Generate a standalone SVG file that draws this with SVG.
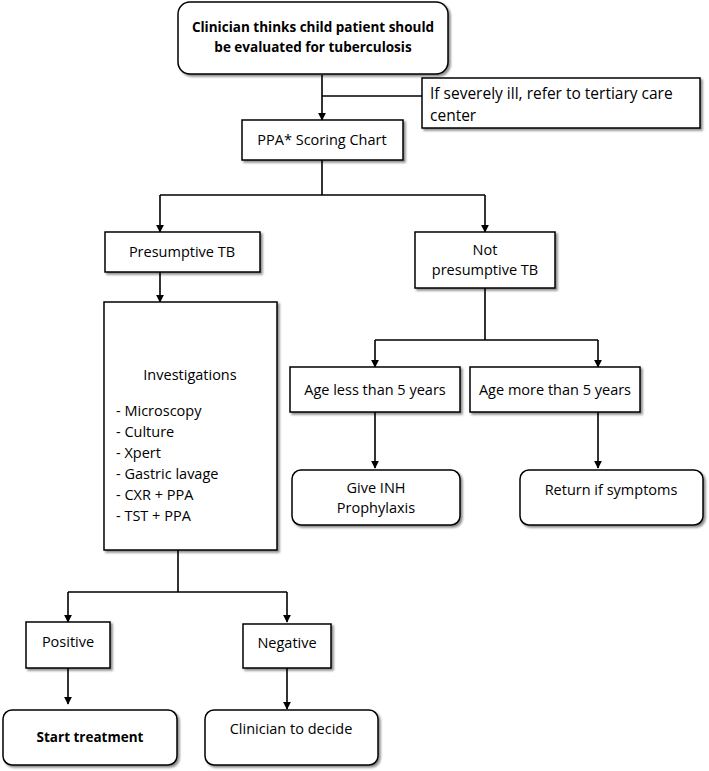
<svg xmlns="http://www.w3.org/2000/svg" width="709" height="771" viewBox="0 0 709 771">
<defs>
<filter id="sh" x="-10%" y="-10%" width="130%" height="130%"><feDropShadow dx="2" dy="2" stdDeviation="1.2" flood-color="#000" flood-opacity="0.45"/></filter>
<marker id="ah" viewBox="0 0 10 10" refX="9" refY="5" markerWidth="5" markerHeight="5" orient="auto"><path d="M0,0 L10,5 L0,10 z" fill="#000"/></marker>
<style>
.b{fill:#fff;stroke:#000;stroke-width:1.5;filter:url(#sh)}
.t{font-family:"Open Sans","Liberation Sans",sans-serif;font-size:14.5px;fill:#000}
.c{text-anchor:middle}
.bd{font-weight:bold;font-size:13.5px}
.s{font-size:15.5px}
.l{fill:none;stroke:#000;stroke-width:1.6}
.a{marker-end:url(#ah)}
</style>
</defs>
<g id="connectors">
<path class="l a" d="M322,75 V120"/>
<path class="l" d="M322,96 H422"/>
<path class="l" d="M322,160 V195 M160,195 H485"/>
<path class="l a" d="M160,195 V232"/>
<path class="l a" d="M485,195 V232"/>
<path class="l a" d="M160,272 V302"/>
<path class="l" d="M178,550 V592 M68,592 H287"/>
<path class="l a" d="M68,592 V622"/>
<path class="l a" d="M287,592 V622"/>
<path class="l a" d="M68,668 V704"/>
<path class="l a" d="M287,668 V709"/>
<path class="l" d="M485,288 V340 M375,340 H598"/>
<path class="l a" d="M375,340 V367"/>
<path class="l a" d="M598,340 V367"/>
<path class="l a" d="M375,412 V468"/>
<path class="l a" d="M598,412 V468"/>
</g>
<g id="n1"><rect class="b" x="178" y="2" width="270" height="72" rx="12"/>
<text class="t c bd" x="313" y="32">Clinician thinks child patient should</text><text class="t c bd" x="313" y="52">be evaluated for tuberculosis</text></g>
<g id="n2"><rect class="b" x="422" y="78" width="278" height="50"/>
<text class="t s" x="430" y="99">If severely ill, refer to tertiary care</text><text class="t s" x="430" y="121">center</text></g>
<g id="n3"><rect class="b" x="242" y="120" width="161" height="40"/><text class="t c" x="322" y="145">PPA* Scoring Chart</text></g>
<g id="n4"><rect class="b" x="105" y="232" width="155" height="40"/><text class="t c" x="182" y="257">Presumptive TB</text></g>
<g id="n5"><rect class="b" x="415" y="232" width="140" height="56"/><text class="t c" x="485" y="255">Not</text><text class="t c" x="485" y="275">presumptive TB</text></g>
<g id="n6"><rect class="b" x="104" y="302" width="173" height="248"/>
<text class="t c" x="190" y="380">Investigations</text>
<text class="t" x="116" y="416">- Microscopy</text><text class="t" x="116" y="437">- Culture</text><text class="t" x="116" y="458">- Xpert</text><text class="t" x="116" y="479">- Gastric lavage</text><text class="t" x="116" y="500">- CXR + PPA</text><text class="t" x="116" y="521">- TST + PPA</text></g>
<g id="n7"><rect class="b" x="290" y="367" width="170" height="45"/><text class="t c" x="375" y="395">Age less than 5 years</text></g>
<g id="n8"><rect class="b" x="470" y="367" width="170" height="45"/><text class="t c" x="555" y="395">Age more than 5 years</text></g>
<g id="n9"><rect class="b" x="292" y="470" width="168" height="55" rx="9"/><text class="t c" x="376" y="493">Give INH</text><text class="t c" x="376" y="513">Prophylaxis</text></g>
<g id="n10"><rect class="b" x="520" y="470" width="183" height="55" rx="9"/><text class="t c" x="611" y="495">Return if symptoms</text></g>
<g id="n11"><rect class="b" x="26" y="622" width="84" height="46"/><text class="t c" x="68" y="647">Positive</text></g>
<g id="n12"><rect class="b" x="243" y="624" width="88" height="44"/><text class="t c" x="287" y="648">Negative</text></g>
<g id="n13"><rect class="b" x="3" y="710" width="174" height="55" rx="9"/><text class="t c bd" x="90" y="742">Start treatment</text></g>
<g id="n14"><rect class="b" x="205" y="710" width="173" height="55" rx="9"/><text class="t c" x="291" y="734">Clinician to decide</text></g>
</svg>
